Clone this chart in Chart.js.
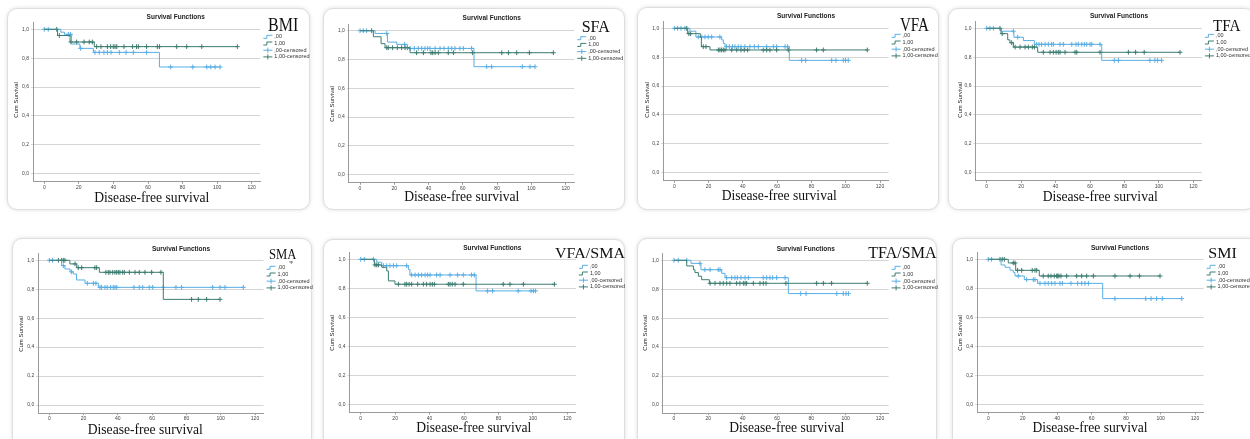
<!DOCTYPE html>
<html>
<head>
<meta charset="utf-8">
<script src="https://cdn.jsdelivr.net/npm/chart.js@4.4.1/dist/chart.umd.min.js"></script>
<style>
  html, body { margin: 0; padding: 0; background: #fff; }
  body { position: relative; width: 1250px; height: 439px; overflow: hidden; font-family: 'Liberation Sans', Arial, sans-serif; }
  .card { position: absolute; background: #fff; border: 1px solid #dedede; border-radius: 10px; box-shadow: 0 0 4px rgba(0,0,0,0.13); }
  canvas { position: absolute; left: 0; top: 0; }
  .txt { position: absolute; white-space: nowrap; color: #111; }
  .title { font-size: 6.5px; font-weight: bold; transform: translate(-50%, -50%); color: #222; }
  .ytitle { font-size: 6px; transform: translate(-50%, -50%) rotate(-90deg); color: #222; }
  .xtitle { font-family: 'Liberation Serif', 'Times New Roman', serif; font-size: 13.6px; line-height: 14px; transform: translateX(-50%); }
  .label { font-family: 'Liberation Serif', 'Times New Roman', serif; font-size: 16px; line-height: 16px; transform-origin: 0 13.4px; }
  .label sub { font-size: 5px; vertical-align: -4px; margin-left: -9px; }
</style>
</head>
<body>
<script>
const BLUE = '#5aaee3';
const GREEN = '#3d7c70';

const X_TICKS = [0, 20, 40, 60, 80, 100, 120];
const Y_TICKS = [0, 0.2, 0.4, 0.6, 0.8, 1.0];
const LEGEND_LABELS = [',00', '1,00', ',00-censored', '1,00-censored'];
const PANEL_NAMES = ['BMI', 'SFA', 'VFA', 'TFA', 'SMA', 'VFA/SMA', 'TFA/SMA', 'SMI'];
const PANEL_SUBS = ['', '', '', '', 'sp', '', '', ''];

// group ,00 = A (light blue), group 1,00 = B (dark green)
// _T = step times, _S = survival after each step, _C = censored times
const BMI_A_T = [0, 9.6, 11.7, 15.8, 20.6, 28.4, 66.6, 101.7];
const BMI_A_S = [1, 0.98, 0.965, 0.898, 0.868, 0.84, 0.739, 0.739];
const BMI_A_C = [0, 2.3, 13.9, 15.2, 21, 29.3, 31.8, 34.5, 36.5, 38.6, 43.4, 47.3, 51.5, 59.2, 73.1, 85.9, 94, 96.3, 98.8, 101.7];
const BMI_B_T = [0, 7.7, 14.9, 28.9, 111.7];
const BMI_B_S = [1, 0.957, 0.912, 0.88, 0.88];
const BMI_B_C = [7.2, 8.7, 15.4, 18.7, 23, 26, 27.8, 30.3, 32.8, 36.5, 38.4, 39.9, 40.9, 41.9, 46.1, 51.1, 53.4, 54.4, 59.2, 65.4, 66.6, 76.6, 82.4, 91.1, 111.7];

const SFA_A_T = [0, 8.8, 16, 21.4, 27.6, 66.5, 102.1];
const SFA_A_S = [1, 0.981, 0.921, 0.905, 0.877, 0.75, 0.75];
const SFA_A_C = [0, 1.9, 3.9, 15.6, 26, 29.2, 31.7, 34, 36, 37.9, 39.5, 40.8, 43.8, 46.7, 49, 51.5, 53.5, 55.4, 58.3, 60.3, 65.1, 73.9, 76.8, 94.7, 99.2, 102.1];
const SFA_B_T = [0, 7.8, 12.3, 14.6, 29.2, 112.8];
const SFA_B_S = [1, 0.958, 0.91, 0.882, 0.847, 0.847];
const SFA_B_C = [6.8, 15.6, 16.5, 19, 21.8, 24.3, 26.3, 27.6, 33, 37, 41.4, 42.4, 43.8, 45.7, 51.5, 54.5, 65.7, 82.7, 86.6, 91.4, 98.8, 112.8];

const VFA_A_T = [0, 9.1, 12.6, 27.6, 28.6, 29.6, 67.1, 101.5];
const VFA_A_S = [1, 0.98, 0.94, 0.92, 0.895, 0.873, 0.778, 0.778];
const VFA_A_C = [0, 1.9, 3.9, 6.2, 14, 16, 17.9, 19.8, 21.8, 26.6, 30.5, 32.1, 34, 35.4, 37.3, 38.9, 41.2, 44.1, 46.7, 49, 53.9, 57.8, 59.7, 64.6, 66.1, 74.3, 76.6, 91.8, 94.3, 98.6, 99.9, 101.5];
const VFA_B_T = [0, 7.8, 15.2, 15.8, 20.8, 112.6];
const VFA_B_S = [1, 0.963, 0.937, 0.873, 0.85, 0.85];
const VFA_B_C = [7.2, 8.5, 9.5, 16.9, 18.5, 25.7, 26.6, 27.6, 28.6, 29.6, 33.5, 36.4, 38.9, 40.8, 42.8, 51.9, 53.9, 55.8, 59.7, 66.5, 83, 86.9, 112.6];

const TFA_A_T = [0, 8.3, 15.8, 21.3, 27.7, 66.8, 101.6];
const TFA_A_S = [1, 0.98, 0.938, 0.915, 0.889, 0.778, 0.778];
const TFA_A_C = [0, 1.9, 3.9, 15.5, 18, 29, 30.4, 31.9, 33.9, 35.8, 37.7, 38.7, 42.6, 44.5, 49.4, 51.9, 53.2, 55.2, 56.7, 58.1, 60, 61, 65.8, 74.1, 76.5, 94.8, 97.7, 99.3, 101.6];
const TFA_B_T = [0, 8.3, 12.2, 13.5, 15.5, 29.6, 112.3];
const TFA_B_S = [1, 0.963, 0.92, 0.9, 0.87, 0.834, 0.834];
const TFA_B_C = [7.7, 9, 14.5, 16.5, 19.4, 22.3, 24.2, 26.5, 27.7, 32.9, 36.8, 38.7, 40.3, 41.6, 42.6, 45.5, 51.3, 52.3, 65.8, 82.3, 86.5, 91.5, 112.3];

const SMA_A_T = [0, 7.2, 9.1, 12.1, 14, 15.9, 20.8, 28.6, 113.2];
const SMA_A_S = [1, 0.963, 0.94, 0.92, 0.905, 0.864, 0.841, 0.813, 0.813];
const SMA_A_C = [0, 1.9, 8.2, 13, 22.2, 25.7, 27.2, 29.6, 30.5, 32.5, 33.8, 35.8, 37.3, 38.3, 39.3, 49.4, 52.5, 54.5, 58.3, 60.3, 66.5, 73.9, 77.2, 95.3, 99.6, 102.5, 113.2];
const SMA_B_T = [0, 12, 16, 29.2, 66.5, 99.6];
const SMA_B_S = [1, 0.975, 0.949, 0.917, 0.73, 0.73];
const SMA_B_C = [5.3, 7.2, 8.2, 9.1, 15, 16.9, 18.9, 26.6, 27.6, 33, 34.4, 35.4, 37, 38.3, 39.3, 40.3, 41.2, 42.8, 43.8, 46.7, 50, 52.5, 55.8, 59.7, 65.1, 83, 86.9, 91.8, 99.6];

const VS_A_T = [0, 9.3, 12.2, 27.7, 28.6, 67, 101.6];
const VS_A_S = [1, 0.98, 0.956, 0.93, 0.892, 0.782, 0.782];
const VS_A_C = [0, 2.1, 7.4, 13.2, 15.1, 17, 19, 20.9, 26.7, 29.6, 31.6, 33.5, 35.4, 37.4, 38.9, 40.3, 44.1, 46.1, 51.9, 56.3, 59.6, 64.4, 66, 73.7, 76.6, 91.5, 98.9, 100.3, 101.6];
const VS_B_T = [0, 7.9, 12.2, 15.1, 16.1, 19.9, 112.5];
const VS_B_S = [1, 0.961, 0.945, 0.92, 0.851, 0.828, 0.828];
const VS_B_C = [8.3, 9.3, 10.3, 21.9, 25.7, 26.7, 28.1, 29.6, 33.1, 36.4, 38.3, 40.3, 41.6, 42.8, 50.9, 51.9, 53.2, 54.8, 59.6, 82.8, 86.7, 94.5, 112.5];

const TS_A_T = [0, 9.9, 15.7, 27.8, 29.7, 66.6, 101.6];
const TS_A_S = [1, 0.979, 0.935, 0.91, 0.88, 0.77, 0.77];
const TS_A_C = [0, 2.5, 7.4, 15.1, 18, 21, 25.8, 26.8, 30.7, 33.6, 35.5, 36.9, 39, 41.4, 43.3, 52, 54, 55.9, 57.5, 59.8, 64.7, 73.8, 76.9, 94.8, 98.6, 100.2, 101.6];
const TS_B_T = [0, 7.4, 11.3, 12.2, 14.2, 16.1, 20.6, 112.6];
const TS_B_S = [1, 0.961, 0.935, 0.915, 0.89, 0.866, 0.841, 0.841];
const TS_B_C = [21, 23.9, 26.8, 28.7, 30.7, 32.6, 36.5, 38.4, 40.4, 41.4, 42.3, 46.2, 50.1, 52, 53.6, 65.2, 83.1, 87, 91.8, 112.6];

const SMI_A_T = [0, 7.4, 9.7, 12.6, 14.5, 15.5, 20.9, 28.6, 66.4, 112.3];
const SMI_A_S = [1, 0.961, 0.945, 0.925, 0.91, 0.885, 0.86, 0.834, 0.729, 0.729];
const SMI_A_C = [0, 1.9, 17.4, 22.3, 26.1, 27.1, 30, 32.9, 34.8, 36.8, 38.7, 41.6, 43, 48, 51.9, 54.2, 56.1, 58.1, 73.5, 91.4, 94.5, 97.7, 101, 112.3];
const SMI_B_T = [0, 11.6, 15.9, 29.6, 99.7];
const SMI_B_S = [1, 0.975, 0.924, 0.885, 0.885];
const SMI_B_C = [6.8, 8.1, 9.3, 14.5, 15.5, 17, 19.4, 25.5, 27.1, 28.1, 31.9, 34.8, 36.4, 38.3, 39.7, 40.3, 41, 42.2, 45.5, 51.3, 54.2, 57.1, 61, 73.5, 82.3, 87.7, 99.7];

const SERIES = [
  [BMI_A_T, BMI_A_S, BMI_A_C, BMI_B_T, BMI_B_S, BMI_B_C],
  [SFA_A_T, SFA_A_S, SFA_A_C, SFA_B_T, SFA_B_S, SFA_B_C],
  [VFA_A_T, VFA_A_S, VFA_A_C, VFA_B_T, VFA_B_S, VFA_B_C],
  [TFA_A_T, TFA_A_S, TFA_A_C, TFA_B_T, TFA_B_S, TFA_B_C],
  [SMA_A_T, SMA_A_S, SMA_A_C, SMA_B_T, SMA_B_S, SMA_B_C],
  [VS_A_T, VS_A_S, VS_A_C, VS_B_T, VS_B_S, VS_B_C],
  [TS_A_T, TS_A_S, TS_A_C, TS_B_T, TS_B_S, TS_B_C],
  [SMI_A_T, SMI_A_S, SMI_A_C, SMI_B_T, SMI_B_S, SMI_B_C]
];

// page layout: card box, pixel of x=0 / x=120 / y=1 / y=0, title centre, y title centre,
// x title [centre x, baseline], label [x, baseline, sx, sy]
const LAYOUT = [
  { card: [7, 8, 308, 208],     axis: [44.3, 251.7, 29.3, 173.7],   title: [175.7, 15.7],  ytitle: [16, 100],      xtitle: [151.8, 202.3],  label: [268, 31.7, 1, 1.17] },
  { card: [323, 8, 623, 208],   axis: [360, 565.7, 30.7, 174.7],    title: [491.7, 16.7],  ytitle: [331.7, 104],   xtitle: [461.8, 201.8],  label: [581.7, 32.7, 1, 1.06] },
  { card: [637, 7, 937, 208],   axis: [674.3, 880, 28.3, 172.7],    title: [806, 15],      ytitle: [646.7, 100],   xtitle: [779.2, 200.3],  label: [900, 31.7, 0.94, 1.17] },
  { card: [948, 8, 1253, 208],  axis: [986.7, 1193.3, 28.3, 172.7], title: [1119, 15],     ytitle: [960, 100],     xtitle: [1100.2, 201.5], label: [1213.3, 31.7, 0.95, 1.1] },
  { card: [12, 238, 310, 446],  axis: [49.3, 255, 260.3, 405],      title: [181, 247.7],   ytitle: [21, 334.3],    xtitle: [145.3, 434.8],  label: [269.3, 259.3, 0.79, 0.95] },
  { card: [323, 239, 623, 446], axis: [360.7, 567.3, 259.3, 404.3], title: [492.3, 246.7], ytitle: [331.7, 333.3], xtitle: [473.8, 432.7],  label: [555, 258.3, 1, 0.93] },
  { card: [637, 238, 935, 446], axis: [674, 880, 260.3, 405],       title: [805.8, 247.7], ytitle: [645, 333.3],   xtitle: [786.7, 432.3],  label: [868.3, 258.3, 1, 1.04] },
  { card: [952, 238, 1256, 446], axis: [988.3, 1195, 259.3, 404.3], title: [1120, 247],    ytitle: [960, 333.3],   xtitle: [1090, 432.3],   label: [1208.3, 258.3, 1, 0.97] }
];

const X_MIN = -6.5, X_MAX = 125, Y_MIN = -0.056, Y_MAX = 1.046;
const Y_W = 22, X_H = 14;
const W = 1250, H = 439;

Chart.defaults.font.family = "'Liberation Sans', Arial, sans-serif";

function stepPoints(t, s) {
  return t.map((x, i) => ({ x: x, y: s[i] }));
}

// value of the step curve at a censoring time
function survAt(t, s, x) {
  let v = s[0];
  for (let i = 0; i < t.length; i++) if (t[i] <= x) v = s[i];
  return v;
}

function addText(cls, html, x, y, extra) {
  const d = document.createElement('div');
  d.className = 'txt ' + cls;
  d.innerHTML = html;
  d.style.left = x + 'px';
  d.style.top = y + 'px';
  if (extra) Object.assign(d.style, extra);
  document.body.appendChild(d);
}

const kmLegend = {
  id: 'kmLegend',
  afterDraw(chart) {
    const ctx = chart.ctx;
    const x = chart.chartArea.right + 3;
    let y = chart.scales.y.getPixelForValue(1) + 7.5;
    ctx.save();
    ctx.lineWidth = 1;
    ctx.font = "5.5px 'Liberation Sans', Arial";
    ctx.textBaseline = 'middle';
    LEGEND_LABELS.forEach((lab, k) => {
      ctx.strokeStyle = k % 2 === 0 ? BLUE : GREEN;
      ctx.beginPath();
      if (k < 2) {
        ctx.moveTo(x, y + 1.5); ctx.lineTo(x + 3.5, y + 1.5);
        ctx.lineTo(x + 3.5, y - 1.5); ctx.lineTo(x + 9, y - 1.5);
      } else {
        ctx.moveTo(x, y); ctx.lineTo(x + 9, y);
        ctx.moveTo(x + 4.5, y - 2.5); ctx.lineTo(x + 4.5, y + 2.5);
      }
      ctx.stroke();
      ctx.fillStyle = '#333';
      ctx.fillText(lab, x + 11, y);
      y += 6.7;
    });
    ctx.restore();
  }
};

// cards first so the canvases sit on top
LAYOUT.forEach(L => {
  const c = document.createElement('div');
  c.className = 'card';
  c.style.left = L.card[0] + 'px';
  c.style.top = L.card[1] + 'px';
  c.style.width = (L.card[2] - L.card[0]) + 'px';
  c.style.height = (L.card[3] - L.card[1]) + 'px';
  document.body.appendChild(c);
});

LAYOUT.forEach((L, i) => {
  const [x0, x120, y1, y0] = L.axis;
  const px = (x120 - x0) / 120, py = y0 - y1;
  const left = x0 + X_MIN * px, right = x0 + X_MAX * px;
  const top = y1 - (Y_MAX - 1) * py, bottom = y0 - Y_MIN * py;

  const cv = document.createElement('canvas');
  cv.width = W; cv.height = H;
  document.body.appendChild(cv);

  const [aT, aS, aC, bT, bS, bC] = SERIES[i];

  new Chart(cv.getContext('2d'), {
    type: 'scatter',
    data: {
      datasets: [
        { data: stepPoints(bT, bS), showLine: true, stepped: true, borderColor: GREEN, borderWidth: 1, pointRadius: 0, fill: false },
        { data: stepPoints(aT, aS), showLine: true, stepped: true, borderColor: BLUE, borderWidth: 1, pointRadius: 0, fill: false },
        { data: bC.map(c => ({ x: c, y: survAt(bT, bS, c) })), pointStyle: 'cross', pointRadius: 2.4, borderColor: GREEN, borderWidth: 1 },
        { data: aC.map(c => ({ x: c, y: survAt(aT, aS, c) })), pointStyle: 'cross', pointRadius: 2.4, borderColor: BLUE, borderWidth: 1 }
      ]
    },
    options: {
      responsive: false,
      animation: false,
      devicePixelRatio: 1,
      events: [],
      layout: { padding: { left: left - Y_W, right: W - right, top: top, bottom: H - bottom - X_H } },
      plugins: { legend: { display: false }, tooltip: { enabled: false }, title: { display: false } },
      scales: {
        x: {
          type: 'linear', min: X_MIN, max: X_MAX,
          afterBuildTicks: s => { s.ticks = X_TICKS.map(v => ({ value: v })); },
          afterFit: s => { s.height = X_H; },
          ticks: { font: { size: 5 }, color: '#444', padding: 1, maxRotation: 0, autoSkip: false },
          grid: { drawOnChartArea: false, drawTicks: true, tickLength: 2, color: '#9a9a9a' },
          border: { display: true, color: '#9a9a9a', width: 1 }
        },
        y: {
          type: 'linear', min: Y_MIN, max: Y_MAX,
          afterBuildTicks: s => { s.ticks = Y_TICKS.map(v => ({ value: v })); },
          afterFit: s => { s.width = Y_W; },
          ticks: { font: { size: 5 }, color: '#444', padding: 2, callback: v => v.toFixed(1).replace('.', ',') },
          grid: { color: '#d4d4d4', lineWidth: 1, tickLength: 2 },
          border: { display: true, color: '#9a9a9a', width: 1 }
        }
      }
    },
    plugins: [kmLegend]
  });
});

LAYOUT.forEach((L, i) => {
  addText('title', 'Survival Functions', L.title[0], L.title[1]);
  addText('ytitle', 'Cum Survival', L.ytitle[0], L.ytitle[1]);
  addText('xtitle', 'Disease-free survival', L.xtitle[0], L.xtitle[1] - 11.6);
  const [lx, lb, sx, sy] = L.label;
  const sub = PANEL_SUBS[i] ? '<sub>' + PANEL_SUBS[i] + '</sub>' : '';
  addText('label', PANEL_NAMES[i] + sub, lx, lb - 13.4, { transform: 'scale(' + sx + ',' + sy + ')' });
});
</script>
</body>
</html>
